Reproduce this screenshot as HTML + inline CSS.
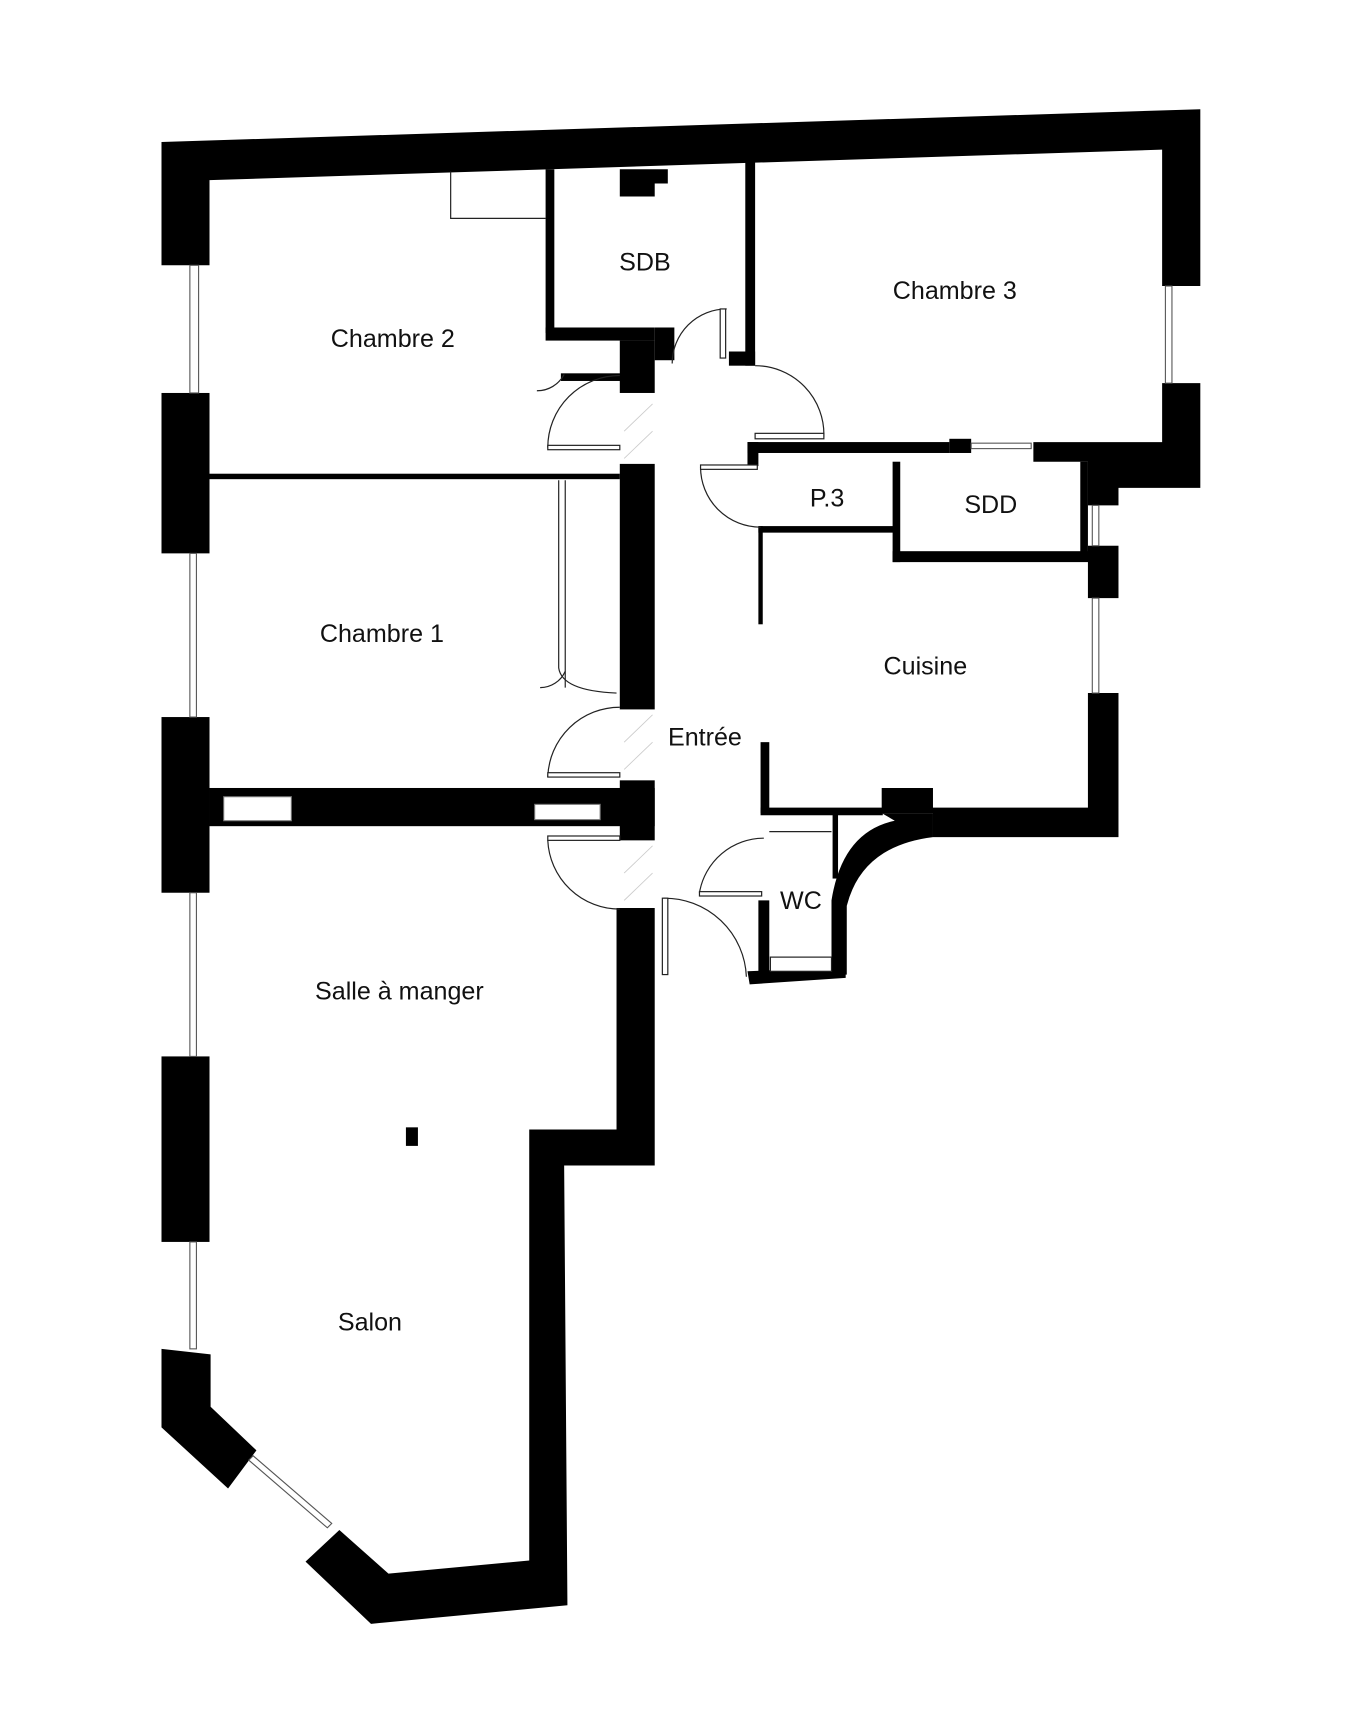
<!DOCTYPE html>
<html><head><meta charset="utf-8"><style>
html,body{margin:0;padding:0;background:#fff}
svg{display:block}
text{font-family:"Liberation Sans",sans-serif;font-size:23px;fill:#111}
</style></head><body>
<svg width="1364" height="1720" viewBox="0 0 1250 1576" xmlns="http://www.w3.org/2000/svg">
<g fill="#000" stroke="none">
<polygon points="148,130 1100,100 1100,262 1065,262 1065,137 192,165 192,243 148,243"/>
<rect x="148" y="360" width="44" height="147"/>
<rect x="148" y="657" width="44" height="161"/>
<rect x="148" y="968" width="44" height="170"/>
<polygon points="148,1236 193,1241 193,1289 235,1329 209,1364 148,1308"/>
<polygon points="280,1431 311,1402 356,1442 485,1430 485,1035 565,1035 565,832 600,832 600,1068 517,1068 520,1471 340,1488"/>
<polygon points="1065,351 1100,351 1100,447 1025,447 1025,463 997,463 997,423 947,423 947,405 1065,405"/>
<rect x="685" y="405" width="185" height="10"/>
<rect x="870" y="402" width="20" height="13"/>
<rect x="685" y="405" width="10" height="22"/>
<rect x="695" y="482" width="125" height="6"/>
<rect x="818" y="423" width="7" height="92"/>
<rect x="818" y="505" width="180" height="10"/>
<rect x="990" y="423" width="7" height="85"/>
<rect x="997" y="500" width="28" height="48"/>
<rect x="695" y="482" width="4" height="90"/>
<polygon points="997,635 1025,635 1025,767 855,767 855,745 808,745 808,722 855,722 855,740 997,740"/>
<rect x="697" y="680" width="8" height="65"/>
<rect x="697" y="740" width="112" height="7"/>
<rect x="763" y="745" width="5" height="60"/>
<rect x="695" y="825" width="10" height="72"/>
<polygon points="685,890 775,886 775,896 687,902"/>
<path d="M808,745 L855,745 L855,767 Q790,775 776,830 L776,893 L762,893 L762,825 Q772,762 820,752 Z"/>
<rect x="568" y="312" width="32" height="48"/>
<rect x="600" y="300" width="18" height="30"/>
<rect x="568" y="425" width="32" height="225"/>
<rect x="568" y="715" width="32" height="55"/>
<rect x="500" y="155" width="8" height="150"/>
<rect x="500" y="300" width="100" height="12"/>
<polygon points="568,155 612,155 612,168 600,168 600,180 568,180"/>
<rect x="683" y="148" width="9" height="187"/>
<rect x="668" y="322" width="24" height="13"/>
<rect x="514" y="342" width="56" height="7"/>
<rect x="192" y="434" width="376" height="5"/>
<rect x="192" y="722" width="408" height="35"/>
<rect x="372" y="1033" width="11" height="17"/>
</g>
<g fill="#fff" stroke="#777" stroke-width="1">
<rect x="205" y="730" width="62" height="22"/>
<rect x="490" y="737" width="60" height="14"/>
</g>
<g fill="#fff" stroke="#555" stroke-width="1">
<rect x="174" y="243" width="8" height="117"/>
<rect x="174" y="507" width="6" height="150"/>
<rect x="174" y="818" width="6" height="150"/>
<rect x="174" y="1138" width="6" height="98"/>
<rect x="1068" y="262" width="6" height="89"/>
<rect x="1001" y="463" width="6" height="37"/>
<rect x="1001" y="548" width="6" height="87"/>
<rect x="890" y="406" width="55" height="5"/>
<polygon points="228,1338 232,1334 304,1396 300,1400"/>
</g>
<g fill="none" stroke="#222" stroke-width="1.1">
<polyline points="413,157 413,200 500,200"/>
<line x1="518" y1="440" x2="518" y2="630"/>
<path d="M512,440 L512,612 Q515,633 565,635"/>
<path d="M502,410 A66,66 0 0 1 568,344"/><rect x="502" y="408" width="66" height="4" fill="#fff"/>
<path d="M502,712 A66,66 0 0 1 568,648"/><rect x="502" y="708" width="66" height="4" fill="#fff"/>
<path d="M502,770 A66,66 0 0 0 568,833"/><rect x="502" y="766" width="66" height="4" fill="#fff"/>
<path d="M616,333 A50,50 0 0 1 666,283"/><rect x="660" y="283" width="5" height="45" fill="#fff"/>
<path d="M692,335 A63,63 0 0 1 755,400"/><rect x="692" y="397" width="63" height="5" fill="#fff"/>
<path d="M642,428 A55,55 0 0 0 697,483"/><rect x="642" y="426" width="52" height="4" fill="#fff"/>
<path d="M641,818 A60,60 0 0 1 700,768"/><rect x="641" y="817" width="57" height="4" fill="#fff"/>
<path d="M608,823 A75,75 0 0 1 684,895"/><rect x="607" y="823" width="5" height="70" fill="#fff"/>
<path d="M492,358 A28,28 0 0 0 517,343"/>
<path d="M495,630 A25,25 0 0 0 518,615"/>
<line x1="705" y1="762" x2="762" y2="762"/>
<rect x="706" y="877" width="56" height="13" fill="#fff"/>
</g>
<g stroke="#ccc" stroke-width="0.8">
<line x1="572" y1="420" x2="598" y2="395"/><line x1="572" y1="395" x2="598" y2="370"/>
<line x1="572" y1="705" x2="598" y2="680"/><line x1="572" y1="680" x2="598" y2="655"/>
<line x1="572" y1="825" x2="598" y2="800"/><line x1="572" y1="800" x2="598" y2="775"/>
</g>
<text x="591" y="248" text-anchor="middle">SDB</text>
<text x="360" y="318" text-anchor="middle">Chambre 2</text>
<text x="875" y="274" text-anchor="middle">Chambre 3</text>
<text x="758" y="464" text-anchor="middle">P.3</text>
<text x="908" y="470" text-anchor="middle">SDD</text>
<text x="350" y="588" text-anchor="middle">Chambre 1</text>
<text x="848" y="618" text-anchor="middle">Cuisine</text>
<text x="646" y="683" text-anchor="middle">Entrée</text>
<text x="734" y="833" text-anchor="middle">WC</text>
<text x="366" y="916" text-anchor="middle">Salle à manger</text>
<text x="339" y="1219" text-anchor="middle">Salon</text>
</svg>
</body></html>
